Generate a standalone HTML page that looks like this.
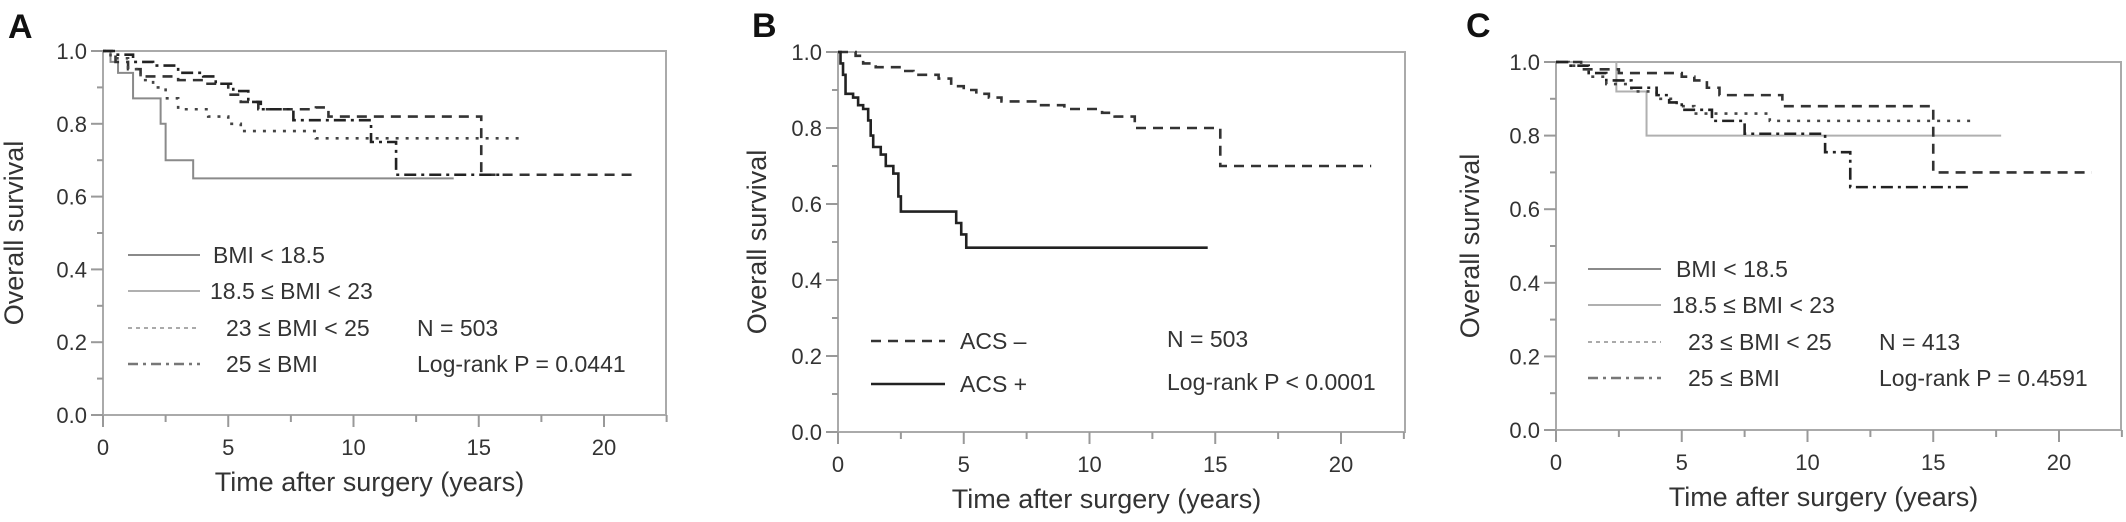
<!DOCTYPE html>
<html><head><meta charset="utf-8"><style>
body{margin:0;background:#fff;}
svg{display:block;font-family:"Liberation Sans",sans-serif;}
</style></head><body>
<svg id="fig" width="2126" height="522" viewBox="0 0 2126 522"></svg>
<script>
// Panel A data (years, survival)
const aBmiLow_t=[0,0.3,0.6,1.2,2.3,2.5,3.6,14];
const aBmiLow_s=[1,0.97,0.94,0.87,0.80,0.70,0.65,0.65];
const aBmiNorm_t=[0,0.5,1,1.5,3,4,5,5.5,6.2,8.5,9,15.1,21.1];
const aBmiNorm_s=[1,0.97,0.95,0.93,0.92,0.91,0.88,0.86,0.84,0.845,0.82,0.66,0.66];
const aBmiOver_t=[0,0.3,1,1.5,2,2.5,3,4.2,5,5.5,8.5,16.6];
const aBmiOver_s=[1,0.98,0.95,0.92,0.90,0.87,0.84,0.82,0.80,0.78,0.76,0.76];
const aBmiObese_t=[0,0.5,1.2,2,3,4,4.5,5.2,5.8,6.3,7.6,10.7,11.7,16];
const aBmiObese_s=[1,0.99,0.97,0.96,0.94,0.93,0.91,0.89,0.86,0.84,0.81,0.75,0.66,0.66];
// Panel B data
const bNeg_t=[0,0.7,1,1.5,2.5,3,4,4.5,5,5.5,6,6.5,8,9,10.5,11,11.8,15.2,21.2];
const bNeg_s=[1,0.99,0.97,0.96,0.95,0.94,0.93,0.91,0.90,0.89,0.88,0.87,0.86,0.85,0.84,0.83,0.80,0.70,0.70];
const bPos_t=[0,0.1,0.2,0.3,0.6,0.8,1.0,1.2,1.3,1.4,1.7,1.9,2.2,2.4,2.5,4.7,4.9,5.1,14.7];
const bPos_s=[1,0.97,0.94,0.89,0.88,0.86,0.85,0.82,0.78,0.75,0.73,0.70,0.68,0.62,0.58,0.55,0.52,0.485,0.485];
// Panel C data
const cBmiLow_t=[0,2.4,3.6,17.7];
const cBmiLow_s=[1,0.92,0.80,0.80];
const cBmiNorm_t=[0,1,2.5,5,5.5,6,6.5,9.0,15.0,21.3];
const cBmiNorm_s=[1,0.98,0.97,0.96,0.95,0.93,0.91,0.88,0.70,0.70];
const cBmiOver_t=[0,0.5,1.3,2,3,4,4.8,5.5,8.5,16.7];
const cBmiOver_s=[1,0.99,0.96,0.94,0.92,0.90,0.88,0.86,0.84,0.84];
const cBmiObese_t=[0,0.5,1.3,2,3,4,4.5,5,6.2,7.5,10.7,11.7,16.5];
const cBmiObese_s=[1,0.99,0.97,0.95,0.93,0.91,0.89,0.87,0.84,0.805,0.755,0.66,0.66];
const xTicks=[0,5,10,15,20];
const yTicks=[0,0.2,0.4,0.6,0.8,1.0];

const NS="http://www.w3.org/2000/svg";
const svg=document.getElementById('fig');
function mk(tag,attrs,parent){const e=document.createElementNS(NS,tag);for(const k in attrs)e.setAttribute(k,attrs[k]);(parent||svg).appendChild(e);return e;}

const STY={
 solidGray:{stroke:'#8a8a8a',w:2,dash:''},
 solidLight:{stroke:'#b0b0b0',w:2,dash:''},
 dashed:{stroke:'#333',w:2.6,dash:'10,7'},
 dotted:{stroke:'#444',w:2.6,dash:'3,7'},
 dashdot:{stroke:'#222',w:2.6,dash:'12,5,3,5'},
 solidDark:{stroke:'#222',w:2.6,dash:''},
 dotLegend:{stroke:'#aaa',w:2,dash:'4,4'},
 ddLegend:{stroke:'#777',w:2.4,dash:'10,5,3,5'}
};

function panel(p){
 const g=mk('g',{});
 
 
 const X=t=>p.x0+t*p.kx, Y=s=>p.y0-(p.y0-p.y1)*s;
 // box
 const box=mk('rect',{x:p.x0,y:p.y1,width:p.xr-p.x0,height:p.y0-p.y1,fill:'none',stroke:'#aaa','stroke-width':2},g);
 
 // x ticks
 for(let t=0;t<=22.5;t+=2.5){const maj=(t%5===0);mk('line',{x1:X(t),x2:X(t),y1:p.y0,y2:p.y0+(maj?12:7),stroke:'#999','stroke-width':2},g);}
 xTicks.forEach(v=>{const tx=mk('text',{x:X(v),y:p.y0+40,'text-anchor':'middle','font-size':22,fill:'#333'},g);tx.textContent=v;
  });
 for(let i=0;i<=10;i++){const s=i/10;const maj=(i%2===0);mk('line',{x1:p.x0-(maj?12:6),x2:p.x0,y1:Y(s),y2:Y(s),stroke:'#999','stroke-width':2},g);}
 yTicks.forEach(v=>{const tx=mk('text',{x:p.x0-16,y:Y(v)+8,'text-anchor':'end','font-size':22,fill:'#333'},g);tx.textContent=v.toFixed(1);
  });
 const xt=mk('text',{x:(p.x0+p.xr)/2-15,y:p.y0+76,'text-anchor':'middle','font-size':27,fill:'#333'},g);xt.textContent='Time after surgery (years)';
 
 const yt=mk('text',{x:0,y:0,'text-anchor':'middle','font-size':27,fill:'#333',transform:`translate(${p.x0-p.ytOff},${(p.y0+p.y1)/2}) rotate(-90)`},g);yt.textContent='Overall survival';
 
 const lt=mk('text',{x:p.lx,y:p.ly,'font-size':34,'font-weight':'bold',fill:'#111'},g);lt.textContent=p.id;
 
 // series
 p.series.forEach(se=>{
  let d='M'+X(se.t[0])+','+Y(se.s[0]);
  for(let i=1;i<se.t.length;i++){d+=' H'+X(se.t[i])+' V'+Y(se.s[i]);}
  const st=STY[se.style];
  const path=mk('path',{d:d,fill:'none',stroke:st.stroke,'stroke-width':st.w,'stroke-dasharray':st.dash},g);
  
  
 });
 // legend
 p.legend.forEach(le=>{
  const st=STY[le.style];
  const ln=mk('line',{x1:p.legX1,x2:p.legX2,y1:le.y-8,y2:le.y-8,stroke:st.stroke,'stroke-width':st.w,'stroke-dasharray':st.dash},g);
  
  const tx=mk('text',{x:le.x,y:le.y,'font-size':23,fill:'#333'},g);tx.textContent=le.text;
  
 });
 p.notes.forEach(n=>{const tx=mk('text',{x:n.x,y:n.y,'font-size':23,fill:'#333'},g);tx.textContent=n.text;
  });
}

panel({id:'A',x0:103,xr:666,kx:25.05,y0:415,y1:51,ytOff:80,lx:8,ly:38,legX1:128,legX2:200,
 series:[
  {name:'bmi-under-18-5',t:aBmiLow_t,s:aBmiLow_s,style:'solidGray'},
  {name:'bmi-18-5-to-23',t:aBmiNorm_t,s:aBmiNorm_s,style:'dashed'},
  {name:'bmi-23-to-25',t:aBmiOver_t,s:aBmiOver_s,style:'dotted'},
  {name:'bmi-25-plus',t:aBmiObese_t,s:aBmiObese_s,style:'dashdot'}],
 legend:[
  {text:'BMI < 18.5',x:213,y:263,style:'solidGray'},
  {text:'18.5 ≤ BMI < 23',x:210,y:299,style:'solidLight'},
  {text:'23 ≤ BMI < 25',x:226,y:336,style:'dotLegend'},
  {text:'25 ≤ BMI',x:226,y:372,style:'ddLegend'}],
 notes:[{text:'N = 503',x:417,y:336,name:'sample-size'},{text:'Log-rank P = 0.0441',x:417,y:372,name:'log-rank-p'}]
});
panel({id:'B',x0:838,xr:1405,kx:25.15,y0:432,y1:52,ytOff:72,lx:752,ly:37,legX1:871,legX2:945,
 series:[
  {name:'acs-negative',t:bNeg_t,s:bNeg_s,style:'dashed'},
  {name:'acs-positive',t:bPos_t,s:bPos_s,style:'solidDark'}],
 legend:[
  {text:'ACS –',x:960,y:349,style:'dashed'},
  {text:'ACS +',x:960,y:392,style:'solidDark'}],
 notes:[{text:'N = 503',x:1167,y:347,name:'sample-size'},{text:'Log-rank P < 0.0001',x:1167,y:390,name:'log-rank-p'}]
});
panel({id:'C',x0:1556,xr:2121,kx:25.15,y0:430,y1:62,ytOff:77,lx:1466,ly:37,legX1:1588,legX2:1661,
 series:[
  {name:'bmi-under-18-5',t:cBmiLow_t,s:cBmiLow_s,style:'solidLight'},
  {name:'bmi-18-5-to-23',t:cBmiNorm_t,s:cBmiNorm_s,style:'dashed'},
  {name:'bmi-23-to-25',t:cBmiOver_t,s:cBmiOver_s,style:'dotted'},
  {name:'bmi-25-plus',t:cBmiObese_t,s:cBmiObese_s,style:'dashdot'}],
 legend:[
  {text:'BMI < 18.5',x:1676,y:277,style:'solidGray'},
  {text:'18.5 ≤ BMI < 23',x:1672,y:313,style:'solidLight'},
  {text:'23 ≤ BMI < 25',x:1688,y:350,style:'dotLegend'},
  {text:'25 ≤ BMI',x:1688,y:386,style:'ddLegend'}],
 notes:[{text:'N = 413',x:1879,y:350,name:'sample-size'},{text:'Log-rank P = 0.4591',x:1879,y:386,name:'log-rank-p'}]
});
</script>
</body></html>
